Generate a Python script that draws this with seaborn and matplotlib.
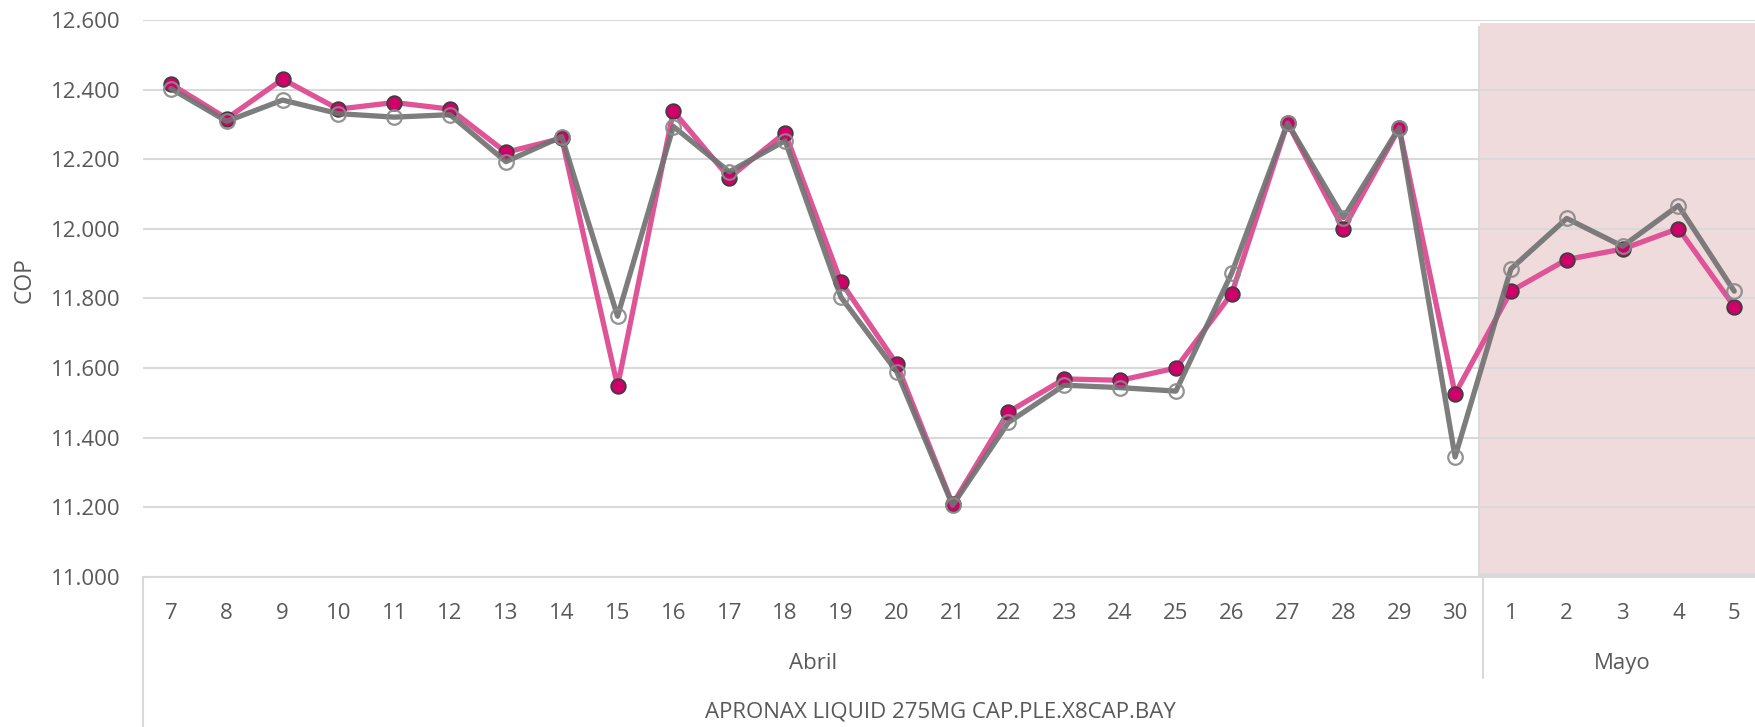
import numpy as np
import pandas as pd
import matplotlib
matplotlib.use("Agg")
import matplotlib.pyplot as plt
import matplotlib.patheffects as pe
from matplotlib.ticker import FuncFormatter
from matplotlib.transforms import blended_transform_factory
import seaborn as sns

# data
days = ["7", "8", "9", "10", "11", "12", "13", "14", "15", "16", "17", "18", "19", "20",
        "21", "22", "23", "24", "25", "26", "27", "28", "29", "30", "1", "2", "3", "4", "5"]
months = ["Abril"] * 24 + ["Mayo"] * 5
cop_pink = [12416, 12317, 12430, 12344, 12363, 12344, 12220, 12260, 11548, 12338,
            12147, 12276, 11848, 11612, 11209, 11474, 11569, 11565, 11600, 11814,
            12304, 12000, 12289, 11526, 11821, 11912, 11942, 12001, 11777]
cop_gray = [12403, 12309, 12370, 12331, 12321, 12328, 12193, 12265, 11749, 12294,
            12164, 12253, 11804, 11590, 11206, 11444, 11551, 11544, 11534, 11873,
            12304, 12032, 12291, 11345, 11885, 12030, 11950, 12067, 11821]
product = "APRONAX LIQUID 275MG CAP.PLE.X8CAP.BAY"

df = pd.DataFrame({"idx": np.arange(len(days)), "day": days, "month": months,
                   "pink": cop_pink, "gray": cop_gray})

sns.set_theme(style="white")
plt.rcParams["font.family"] = ["Open Sans", "DejaVu Sans"]
txt = "#595959"
grid_c = "#D9D9D9"

fig = plt.figure(figsize=(17.56, 7.27), dpi=100)
ax = fig.add_axes([143 / 1756, 150 / 727, 1 - 143 / 1756, 557 / 727])

# shaded Mayo block with a soft shadow
span = ax.axvspan(23.45, 40, ymin=0.007, ymax=0.995, color="#EFDBDB", lw=0, zorder=0)
span.set_path_effects([pe.SimplePatchShadow(offset=(-1.5, -2), shadow_rgbFace="#999999", alpha=0.35),
                       pe.Normal()])

sns.lineplot(data=df, x="idx", y="pink", ax=ax, color="#DE5497", linewidth=3.8,
             marker="o", markersize=10.5, markerfacecolor="#D0006A",
             markeredgecolor="#3F3F3F", markeredgewidth=1.3, zorder=3)
sns.lineplot(data=df, x="idx", y="gray", ax=ax, color="#727272", linewidth=3.8, alpha=0.92,
             marker="o", markersize=10.5, markerfacecolor="none",
             markeredgecolor="#8A8A8A", markeredgewidth=1.6, zorder=4)

ax.set_ylim(11000, 12600)
ax.set_yticks(np.arange(11000, 12601, 200))
ax.yaxis.set_major_formatter(FuncFormatter(lambda v, p: f"{v:,.0f}".replace(",", ".")))
ax.set_xlim(-0.5, 28.39)
ax.set_xticks(df["idx"])
ax.set_xticklabels(days)

ax.grid(axis="y", color=grid_c, linewidth=1.5)
ax.set_axisbelow(True)
for s in ["left", "right", "top"]:
    ax.spines[s].set_visible(False)
ax.spines["bottom"].set_color(grid_c)
ax.spines["bottom"].set_linewidth(1.5)
ax.tick_params(axis="y", length=0, pad=16.5, labelsize=16, labelcolor=txt)
ax.tick_params(axis="x", length=0, pad=19, labelsize=16, labelcolor=txt)
ax.set_xlabel("")
ax.set_ylabel("")

fig.text(0.0142, 0.615, "COP", rotation=90, ha="center", va="center", fontsize=16.5, color=txt)

# category axis: month groups and product label
tr = blended_transform_factory(ax.transData, fig.transFigure)
ax.plot([-0.5, -0.5], [0.206, 0.0], transform=tr, color=grid_c, lw=1.5, clip_on=False)
ax.plot([23.5, 23.5], [0.205, 0.067], transform=tr, color=grid_c, lw=1.5, clip_on=False)
ax.text(11.5, 0.088, "Abril", transform=tr, ha="center", va="center", fontsize=16, color=txt)
ax.text(26.0, 0.088, "Mayo", transform=tr, ha="center", va="center", fontsize=16, color=txt)
ax.text(13.78, 0.0206, product, transform=tr, ha="center", va="center", fontsize=16, color=txt)

fig.savefig("out.png", dpi=100)
